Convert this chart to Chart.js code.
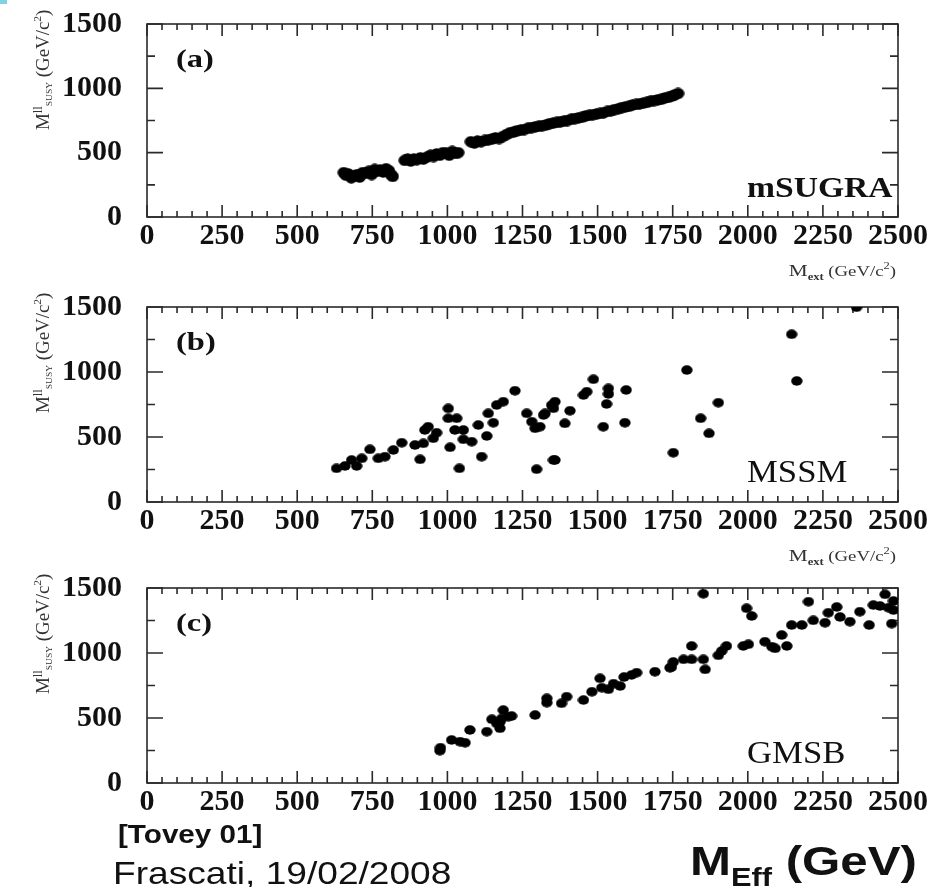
<!DOCTYPE html>
<html>
<head>
<meta charset="utf-8">
<script src="https://cdn.jsdelivr.net/npm/chart.js@4.4.1/dist/chart.umd.min.js"></script>
<style>
  html, body { margin: 0; padding: 0; background: #fff; }
  #page { position: relative; width: 935px; height: 887px; overflow: hidden; background: #fff; }
  .panel { position: absolute; left: 0; width: 935px; height: 290px; }
  .note { position: absolute; font-family: "Liberation Sans", Arial, sans-serif; color: #111;
          white-space: nowrap; line-height: 1; transform-origin: 0 0; z-index: 2; }
  .corner { position: absolute; left: 0; top: 0; width: 7px; height: 4px; background: #7fd3e3; }
</style>
</head>
<body>
<div id="page">
  <div class="corner"></div>
  <canvas class="panel" id="panelA" width="935" height="290" style="top:0px"></canvas>
  <canvas class="panel" id="panelB" width="935" height="290" style="top:283px"></canvas>
  <canvas class="panel" id="panelC" width="935" height="290" style="top:564px"></canvas>

  <div class="note" style="left:118px; top:821px; font-size:26px; font-weight:bold; transform:scaleX(1.14)">[Tovey 01]</div>
  <div class="note" style="left:113px; top:857px; font-size:32px; transform:scaleX(1.16)">Frascati, 19/02/2008</div>
  <div class="note" style="left:690px; top:841px; font-size:40px; font-weight:bold; transform:scaleX(1.23)">M<span style="font-size:25px; position:relative; top:11px">Eff</span> (GeV)</div>
</div>

<script>
// Axis ticks
const X_TICKS = [0, 250, 500, 750, 1000, 1250, 1500, 1750, 2000, 2250, 2500];
const Y_TICKS = [0, 500, 1000, 1500];

// (a) mSUGRA: M_eff vs M_SUSY^ll (GeV/c^2)
const msugraMeff = [655, 662, 670, 680, 690, 700, 708, 718, 728, 738, 748, 758, 766, 776, 786, 796, 805, 812, 818,
  858, 868, 878, 888, 898, 910, 920, 932, 944, 954, 964, 975, 985, 996, 1006, 1016, 1026, 1036,
  1078, 1090, 1100, 1112, 1124, 1136, 1148, 1160, 1172, 1184, 1196, 1208, 1220, 1232, 1244, 1256, 1268, 1280,
  1292, 1304, 1316, 1328, 1340, 1352, 1364, 1376, 1388, 1400, 1412, 1424, 1436, 1448, 1460, 1472, 1484, 1496,
  1508, 1520, 1532, 1544, 1556, 1568, 1580, 1592, 1604, 1616, 1628, 1640, 1652, 1664, 1676, 1688, 1700, 1712,
  1724, 1736, 1748, 1758, 1768];
const msugraMsusy = [345, 325, 335, 305, 320, 330, 310, 345, 340, 355, 330, 370, 355, 365, 350, 375, 360, 330, 315,
  440, 450, 435, 450, 445, 460, 450, 465, 480, 470, 490, 480, 500, 495, 480, 510, 495, 500,
  585, 575, 590, 585, 595, 600, 605, 615, 610, 625, 640, 655, 660, 670, 675, 680, 690, 695,
  700, 705, 710, 715, 725, 730, 735, 740, 745, 750, 760, 765, 770, 775, 785, 790, 795, 800,
  805, 810, 820, 825, 835, 840, 850, 855, 860, 870, 875, 880, 885, 890, 900, 905, 910, 915,
  925, 930, 940, 950, 960];

// (b) MSSM
const mssmMeff = [631, 659, 681, 698, 715, 742, 770, 792, 820, 848, 892, 920, 909, 925, 936, 964, 953,
  1003, 1003, 1031, 1025, 1009, 1053, 1053, 1081, 1040, 1103, 1131, 1114, 1136, 1153, 1164, 1186, 1225,
  1264, 1281, 1292, 1320, 1347, 1297, 1353, 1308, 1325, 1358, 1353, 1408, 1391, 1358,
  1453, 1464, 1486, 1519, 1536, 1536, 1530, 1591, 1595, 1752, 1797, 1843, 1871, 1902, 2146, 2163, 2362];
const mssmMsusy = [259, 277, 323, 277, 336, 405, 336, 349, 400, 456, 438, 451, 328, 554, 579, 533, 490,
  720, 644, 644, 554, 421, 554, 482, 464, 259, 592, 508, 349, 682, 610, 746, 772, 856,
  682, 618, 567, 669, 746, 252, 323, 579, 682, 772, 721, 702, 605, 323,
  823, 849, 944, 579, 874, 831, 754, 610, 862, 379, 1015, 644, 528, 764, 1290, 931, 1498];

// (c) GMSB
const gmsbMeff = [975, 977, 1014, 1042, 1059, 1075, 1131, 1148, 1164, 1175, 1181, 1186, 1203, 1214, 1175,
  1292, 1331, 1331, 1380, 1397, 1453, 1481, 1508, 1514, 1536, 1553, 1575, 1588, 1613, 1630, 1691, 1741,
  1746, 1752, 1786, 1813, 1813, 1852, 1858, 1852, 1902, 1913, 1929, 1985, 2002, 1996, 2013,
  2057, 2080, 2091, 2113, 2130, 2146, 2180, 2202, 2218, 2257, 2268, 2296, 2307, 2340, 2373,
  2404, 2418, 2440, 2457, 2468, 2479, 2485, 2485];
const gmsbMsusy = [249, 272, 331, 318, 310, 408, 395, 490, 459, 421, 497, 561, 510, 515, 470,
  523, 651, 618, 613, 664, 638, 702, 805, 733, 721, 764, 746, 815, 831, 849, 856, 887,
  892, 931, 951, 951, 1054, 951, 874, 1456, 982, 1015, 1054, 1054, 1067, 1344, 1285,
  1087, 1049, 1036, 1138, 1054, 1215, 1215, 1395, 1251, 1233, 1310, 1354, 1277, 1241, 1318,
  1215, 1369, 1362, 1451, 1349, 1226, 1400, 1330];

const PANEL_TAGS = ['(a)', '(b)', '(c)'];
const MODEL_NAMES = ['mSUGRA', 'MSSM', 'GMSB'];

const SERIF = '"Liberation Serif", "Times New Roman", serif';

// Filled, slightly wide marker
function makeDot(w, h) {
  const c = document.createElement('canvas');
  c.width = w; c.height = h;
  const g = c.getContext('2d');
  g.fillStyle = '#000';
  g.beginPath();
  g.ellipse(w / 2, h / 2, w / 2 - 0.3, h / 2 - 0.3, 0, 0, Math.PI * 2);
  g.fill();
  return c;
}
const dotSmall = makeDot(12, 10);
const dotBand = makeDot(13, 12);

// Text made of runs with different sizes / offsets (sub- and superscripts)
function drawRuns(ctx, runs, sx) {
  let cx = 0;
  ctx.save();
  ctx.scale(sx, 1);
  for (const [t, size, weight, dy] of runs) {
    ctx.font = `${weight} ${size}px ${SERIF}`;
    ctx.fillText(t, cx, dy);
    cx += ctx.measureText(t).width;
  }
  ctx.restore();
  return cx * sx;
}
function runsWidth(ctx, runs, sx) {
  let w = 0;
  ctx.save();
  for (const [t, size, weight] of runs) {
    ctx.font = `${weight} ${size}px ${SERIF}`;
    w += ctx.measureText(t).width;
  }
  ctx.restore();
  return w * sx;
}

// Box frame with inward ticks on all four sides, plus panel texts
const panelDeco = {
  id: 'panelDeco',
  beforeDatasetsDraw(chart, args, opts) {
    const { ctx, chartArea: a, scales: { x, y } } = chart;
    ctx.save();
    ctx.strokeStyle = '#2a2a2a';
    ctx.lineWidth = 1.6;
    ctx.strokeRect(a.left, a.top, a.right - a.left, a.bottom - a.top);
    ctx.beginPath();
    for (let v = 0; v <= 2500; v += 50) {
      const px = x.getPixelForValue(v);
      const len = v % 250 === 0 ? 12 : 6;
      ctx.moveTo(px, a.bottom); ctx.lineTo(px, a.bottom - len);
      ctx.moveTo(px, a.top); ctx.lineTo(px, a.top + len);
    }
    for (let v = 0; v <= 1500; v += 250) {
      const py = y.getPixelForValue(v);
      const len = v % 500 === 0 ? 16 : 8;
      ctx.moveTo(a.left, py); ctx.lineTo(a.left + len, py);
      ctx.moveTo(a.right, py); ctx.lineTo(a.right - len, py);
    }
    ctx.stroke();

    ctx.fillStyle = '#111';
    ctx.textBaseline = 'middle';
    ctx.textAlign = 'left';

    // panel tag
    ctx.save();
    ctx.translate(a.left + 29, a.top + 37);
    drawRuns(ctx, [[opts.tag, 25, 'bold', 0]], 1.3);
    ctx.restore();

    // model name
    ctx.save();
    ctx.translate(747, a.bottom - 28);
    drawRuns(ctx, [[opts.name, opts.nameBold ? 30 : 31, opts.nameBold ? 'bold' : 'normal', 0]], 1.12);
    ctx.restore();

    ctx.textBaseline = 'alphabetic';
    ctx.fillStyle = '#333';

    // vertical axis title
    ctx.save();
    ctx.translate(49, a.top + 106);
    ctx.rotate(-Math.PI / 2);
    drawRuns(ctx, [['M', 18, 'normal', 0], ['ll', 12, 'normal', -7], ['SUSY', 9, 'normal', 3],
                   [' (GeV/c', 18, 'normal', 0], ['2', 11, 'normal', -8], [')', 18, 'normal', 0]], 1.05);
    ctx.restore();

    // horizontal axis title
    if (opts.xTitle) {
      const runs = [['M', 17, 'normal', 0], ['ext', 10, 'bold', 4], [' (GeV/c', 15, 'normal', 0],
                    ['2', 10, 'normal', -7], [')', 15, 'normal', 0]];
      const w = runsWidth(ctx, runs, 1.25);
      ctx.save();
      ctx.translate(896 - w, a.bottom + 59);
      drawRuns(ctx, runs, 1.25);
      ctx.restore();
    }
    ctx.restore();
  }
};

function makePanel(id, idx, xs, ys, padBottom, xTitle, marker) {
  const pts = xs.map((v, i) => ({ x: v, y: ys[i] }));
  return new Chart(document.getElementById(id), {
    type: 'scatter',
    data: {
      datasets: [{
        data: pts,
        pointStyle: marker,
        pointRadius: 5,
        pointHoverRadius: 5,
        backgroundColor: '#000',
        borderWidth: 0,
        clip: 0
      }]
    },
    options: {
      responsive: false,
      maintainAspectRatio: false,
      animation: false,
      events: [],
      layout: { autoPadding: false, padding: { left: 0, right: 37, top: 24, bottom: padBottom } },
      plugins: {
        legend: { display: false },
        tooltip: { enabled: false },
        panelDeco: { tag: PANEL_TAGS[idx], name: MODEL_NAMES[idx], nameBold: idx === 0, xTitle }
      },
      scales: {
        x: {
          type: 'linear', min: 0, max: 2500,
          afterBuildTicks: s => { s.ticks = X_TICKS.map(v => ({ value: v })); },
          afterFit: s => { s.height = 40; },
          grid: { display: false, drawTicks: true, tickLength: 4 },
          border: { display: false },
          ticks: {
            autoSkip: false, maxRotation: 0, minRotation: 0, padding: 0, color: '#111',
            font: { family: SERIF, weight: 'bold', size: 30, lineHeight: 1 },
            callback: v => String(v)
          }
        },
        y: {
          type: 'linear', min: 0, max: 1500,
          afterBuildTicks: s => { s.ticks = Y_TICKS.map(v => ({ value: v })); },
          afterFit: s => { s.width = 147; },
          grid: { display: false, drawTicks: true, tickLength: 25 },
          border: { display: false },
          ticks: {
            padding: 0, color: '#111',
            font: { family: SERIF, weight: 'bold', size: 30, lineHeight: 1 },
            callback: v => String(v)
          }
        }
      }
    },
    plugins: [panelDeco]
  });
}

makePanel('panelA', 0, msugraMeff, msugraMsusy, 33, true, dotBand);
makePanel('panelB', 1, mssmMeff, mssmMsusy, 31, true, dotSmall);
makePanel('panelC', 2, gmsbMeff, gmsbMsusy, 31, false, dotSmall);
</script>
</body>
</html>
